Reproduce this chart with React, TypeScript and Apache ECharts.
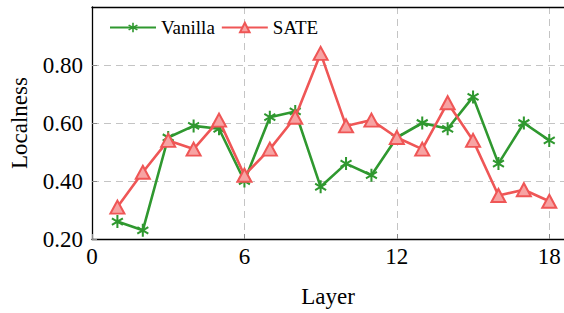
import React, { useEffect, useRef } from "react";
import * as echarts from "echarts";

const layers = [1, 2, 3, 4, 5, 6, 7, 8, 9, 10, 11, 12, 13, 14, 15, 16, 17, 18];
const vanilla = [0.26, 0.23, 0.55, 0.59, 0.58, 0.40, 0.62, 0.64, 0.38, 0.46, 0.42, 0.55, 0.60, 0.58, 0.69, 0.46, 0.60, 0.54];
const sate = [0.31, 0.43, 0.54, 0.51, 0.61, 0.42, 0.51, 0.62, 0.84, 0.59, 0.61, 0.55, 0.51, 0.67, 0.54, 0.35, 0.37, 0.33];
const seriesNames = ["Vanilla", "SATE"];

const GREEN = "#2f982f";
const RED = "#ef5656";
const FONT = "'Liberation Serif', 'Times New Roman', Times, serif";

const STAR =
  "path://M-0.16,-1L0.16,-1L0.16,1L-0.16,1ZM0.786,-0.639L0.946,-0.361L-0.786,0.639L-0.946,0.361ZM0.946,0.361L0.786,0.639L-0.946,-0.361L-0.786,-0.639Z";

export default function App() {
  const ref = useRef<HTMLDivElement>(null);
  useEffect(() => {
    if (!ref.current) return;
    const chart = echarts.init(ref.current, null, { renderer: "svg" });
    const dashed = { show: true, lineStyle: { color: "#c4c4c4", type: [7, 5] as any, width: 1 } };
    chart.setOption({
      animation: false,
      backgroundColor: "#fff",
      grid: { left: 89, right: 0, top: 7, bottom: 69, containLabel: false },
      legend: {
        left: 104,
        top: 13,
        itemWidth: 46,
        itemHeight: 12,
        itemGap: 6,
        textStyle: { fontFamily: FONT, fontSize: 19, color: "#000" },
        data: seriesNames,
      },
      xAxis: [
        {
          type: "value",
          min: 0,
          max: 18.58,
          interval: 6,
          name: "Layer",
          nameLocation: "middle",
          nameGap: 46,
          nameTextStyle: { fontFamily: FONT, fontSize: 23, color: "#000" },
          axisLine: { show: true, lineStyle: { color: "#000", width: 1.3 } },
          axisTick: { show: true, inside: true, length: 5, lineStyle: { color: "#888" } },
          axisLabel: { fontFamily: FONT, fontSize: 23, color: "#000", margin: 6, showMaxLabel: false },
          splitLine: dashed,
        },
        {
          type: "value",
          position: "top",
          min: 0,
          max: 18.58,
          axisLine: { show: true, lineStyle: { color: "#000", width: 1.3 } },
          axisTick: { show: false },
          axisLabel: { show: false },
          splitLine: { show: false },
        },
      ],
      yAxis: {
        type: "value",
        min: 0.2,
        max: 1.0,
        interval: 0.2,
        name: "Localness",
        nameLocation: "middle",
        nameGap: 61,
        nameTextStyle: { fontFamily: FONT, fontSize: 23, color: "#000" },
        axisLine: { show: true, lineStyle: { color: "#000", width: 1.3 } },
        axisTick: { show: true, inside: true, length: 5, lineStyle: { color: "#888" } },
        axisLabel: {
          fontFamily: FONT,
          fontSize: 23,
          color: "#000",
          margin: 9,
          showMaxLabel: false,
          formatter: (v: number) => v.toFixed(2),
        },
        splitLine: dashed,
      },
      series: [
        {
          name: seriesNames[0],
          type: "line",
          data: layers.map((l, i) => [l, vanilla[i]]),
          symbol: STAR,
          symbolSize: [12, 13],
          lineStyle: { color: GREEN, width: 2.6 },
          itemStyle: { color: GREEN },
          z: 3,
        },
        {
          name: seriesNames[1],
          type: "line",
          data: layers.map((l, i) => [l, sate[i]]),
          symbol: "triangle",
          symbolSize: [14, 13],
          lineStyle: { color: RED, width: 2.6 },
          itemStyle: { color: "#f7a3a3", borderColor: RED, borderWidth: 2 },
          z: 4,
        },
      ],
    });
    return () => chart.dispose();
  }, []);
  return (
    <div
      ref={ref}
      style={{ position: "fixed", left: 0, top: 0, width: 564, height: 313 }}
    />
  );
}
